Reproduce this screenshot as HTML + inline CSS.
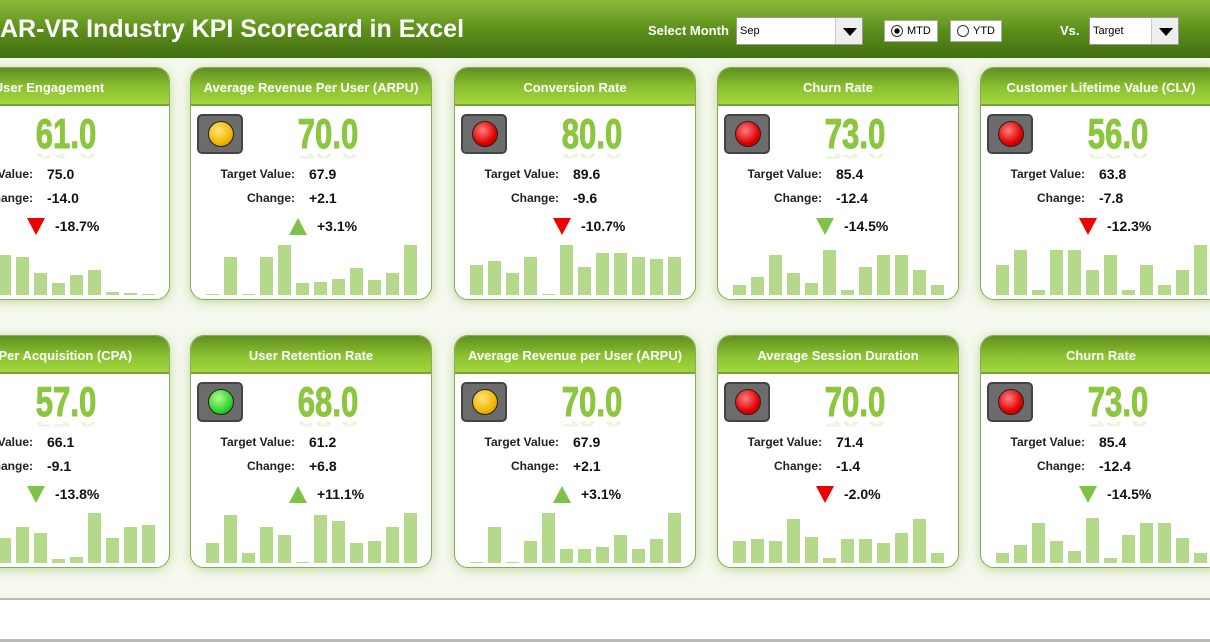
<!DOCTYPE html><html><head><meta charset="utf-8"><style>
*{margin:0;padding:0;box-sizing:border-box}
body{width:1210px;height:642px;overflow:hidden;background:#fff;font-family:"Liberation Sans",sans-serif;position:relative}
#bg{position:absolute;left:0;top:0;width:1210px;height:600px;background:#f5f8ee;border-bottom:2px solid #b8bcb4}
#bot{position:absolute;left:0;top:639px;width:1210px;height:3px;background:#b8bcb4}
#hdr{position:absolute;left:0;top:0;width:1210px;height:58px;background:linear-gradient(#8cbb3a,#5e901c 50%,#416e10)}
#ttl{position:absolute;left:0;top:15px;color:#fff;font-weight:bold;font-size:25px}
.lbl{position:absolute;color:#fff;font-weight:bold;font-size:13px;top:23px}
.dd{position:absolute;top:17px;height:28px;background:#fff;border:1px solid #999;font-size:11px;padding:7px 3px}
.dd b{position:absolute;right:0;top:0;width:27px;height:26px;background:#eee;border-left:1px solid #ccc}
.dd b:after{content:"";position:absolute;left:7px;top:10px;border-left:7px solid transparent;border-right:7px solid transparent;border-top:8px solid #000}
.rb{position:absolute;top:20px;height:22px;background:#fff;border:1px solid #aaa;font-size:11px;padding:4px 0 0 22px}
.rb i{position:absolute;left:6px;top:4px;width:12px;height:12px;border:1px solid #333;border-radius:50%}
.card{position:absolute;width:242px;height:233px;background:#fff;border:1.5px solid #8aa860;border-radius:14px;overflow:hidden;box-shadow:0 2px 10px rgba(130,180,60,.45)}
.ch{height:38px;background:linear-gradient(#5f8f1c,#8cc232 55%,#a2d63e);color:#fff;font-weight:bold;font-size:13px;text-align:center;line-height:40px;border-bottom:2px solid #79a33a;white-space:nowrap}
.light{position:absolute;left:6px;top:46px;width:46px;height:40px;background:#6c6c6c;border:2px solid #444;border-radius:5px}
.light i{position:absolute;left:9px;top:5px;width:26px;height:26px;border-radius:50%;border:1.5px solid #222}
.big{position:absolute;left:0;width:100%;top:42px;text-align:center;padding-left:46px;font-size:42px;font-weight:bold;color:#8cc63f;transform:scaleX(.74);-webkit-text-stroke:1px #8cc63f}
.ref{position:absolute;left:0;width:100%;top:80px;text-align:center;padding-left:46px;font-size:42px;font-weight:bold;color:#8cc63f;transform:scaleX(.74) scaleY(-.45);opacity:.18;height:20px;overflow:hidden}
.tl{position:absolute;right:136px;font-size:12px;font-weight:bold;color:#222}
.tv{position:absolute;left:118px;font-size:14px;font-weight:bold;color:#111}
.tri{position:absolute;left:98px;top:150px;width:0;height:0;border-left:9px solid transparent;border-right:9px solid transparent}
.pc{position:absolute;left:126px;top:150px;font-size:14px;font-weight:bold;color:#111}
.bars{position:absolute;left:15px;bottom:4px;width:215px;height:58px}
.bars s{position:absolute;bottom:0;width:13px;background:#b5d98a}
</style></head><body>
<div id="bg"></div><div id="bot"></div>
<div id="hdr"><div id="ttl">AR-VR Industry KPI Scorecard in Excel</div>
<div class="lbl" style="left:648px">Select Month</div>
<div class="dd" style="left:736px;width:127px">Sep<b></b></div>
<div class="rb" style="left:884px;width:54px"><i style="background:radial-gradient(#000 35%,#fff 40%)"></i>MTD</div>
<div class="rb" style="left:950px;width:52px"><i></i>YTD</div>
<div class="lbl" style="left:1060px">Vs.</div>
<div class="dd" style="left:1089px;width:90px">Target<b></b></div>
</div>
<div id="cards"></div>
<script>
const C=[
[-72,67,"User Engagement",null,"61.0","75.0","-14.0","-18.7%","dr",[30,44,48,40,38,22,12,20,25,3,2,0]],
[190,67,"Average Revenue Per User (ARPU)","y","70.0","67.9","+2.1","+3.1%","ug",[1,38,1,38,50,12,13,16,27,15,22,50]],
[454,67,"Conversion Rate","r","80.0","89.6","-9.6","-10.7%","dr",[30,34,22,38,0,50,28,42,42,38,36,38]],
[717,67,"Churn Rate","r","73.0","85.4","-12.4","-14.5%","dg",[10,18,40,22,12,45,5,28,40,40,25,10]],
[980,67,"Customer Lifetime Value (CLV)","r","56.0","63.8","-7.8","-12.3%","dr",[30,45,5,45,45,25,40,5,30,10,25,50]],
[-72,335,"Cost Per Acquisition (CPA)",null,"57.0","66.1","-9.1","-13.8%","dg",[20,40,2,25,36,30,4,6,50,25,36,38]],
[190,335,"User Retention Rate","g","68.0","61.2","+6.8","+11.1%","ug",[20,48,10,36,28,0,48,42,20,22,36,50]],
[454,335,"Average Revenue per User (ARPU)","y","70.0","67.9","+2.1","+3.1%","ug",[1,36,1,22,50,14,14,16,28,14,24,50]],
[717,335,"Average Session Duration","r","70.0","71.4","-1.4","-2.0%","dr",[22,24,22,44,26,5,24,24,20,30,44,10]],
[980,335,"Churn Rate","r","73.0","85.4","-12.4","-14.5%","dg",[10,18,40,22,12,45,5,28,40,40,25,10]]];
const LC={y:"radial-gradient(circle at 40% 35%,#ffe680,#f2b600 60%,#b88a00)",r:"radial-gradient(circle at 40% 35%,#ff8080,#e00000 60%,#900)",g:"radial-gradient(circle at 40% 35%,#b0ff90,#2fd42f 60%,#108010)"};
let h="";
for(const c of C){
let b="";c[9].forEach((v,i)=>{b+=`<s style="left:${i*18}px;height:${Math.max(v,1)}px"></s>`});
let tri=c[8][0]=="u"?`border-bottom:17px solid #7fc24a`:`border-top:17px solid ${c[8][1]=="r"?"#e00":"#7fc24a"}`;
h+=`<div class="card" style="left:${c[0]}px;top:${c[1]}px"><div class="ch">${c[2]}</div>
${c[3]?`<div class="light"><i style="background:${LC[c[3]]}"></i></div>`:""}
<div class="big">${c[4]}</div><div class="ref">${c[4]}</div>
<div class="tl" style="top:99px">Target Value:</div><div class="tv" style="top:98px">${c[5]}</div>
<div class="tl" style="top:123px">Change:</div><div class="tv" style="top:122px">${c[6]}</div>
<div class="tri" style="${tri}"></div><div class="pc">${c[7]}</div>
<div class="bars">${b}</div></div>`}
document.getElementById("cards").innerHTML=h;
</script></body></html>
